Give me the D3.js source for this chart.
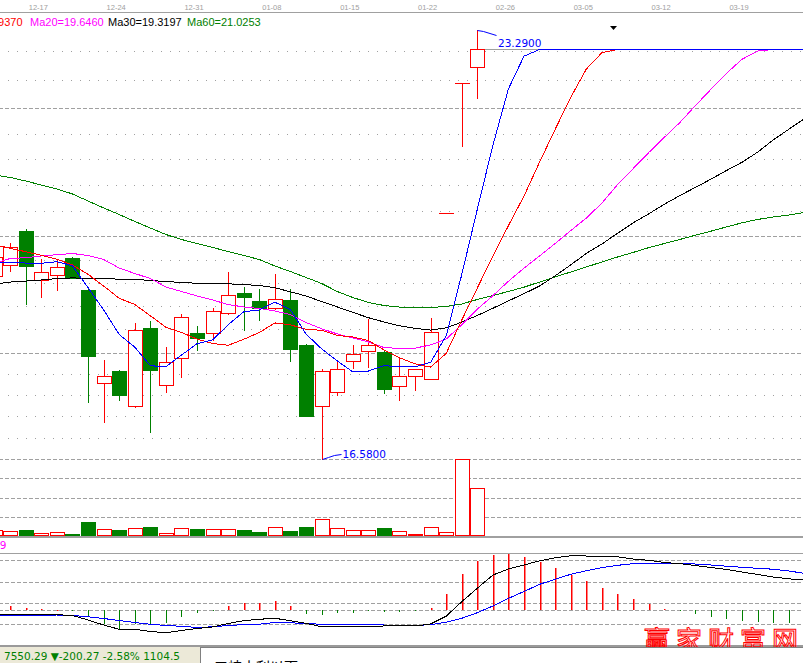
<!DOCTYPE html>
<html>
<head>
<meta charset="utf-8">
<script src="https://cdn.jsdelivr.net/npm/d3@7"></script>
<style>
  html, body { margin: 0; padding: 0; background: #fff; overflow: hidden; }
  svg { display: block; }
</style>
</head>
<body>
<script>
// ---- daily bars (first entry is the session just left of the visible window) ----
const opens  = [19.45, 19.62, 20.15, 19.38, 19.46, 19.73, 19.23, 17.78, 17.96, 17.42,
                18.63, 17.74, 18.16, 18.56, 18.55, 18.87, 19.18, 19.06, 18.94, 19.07,
                18.37, 17.41, 17.63, 18.11, 18.27, 18.26, 17.72, 17.89, 17.83, 20.43,
                22.47, 22.72];
const highs  = [19.78, 19.96, 20.18, 19.71, 19.69, 19.74, 19.24, 18.13, 17.97, 18.71,
                18.75, 18.33, 18.85, 18.67, 18.95, 19.51, 19.27, 19.24, 19.48, 19.24,
                18.38, 17.99, 18.12, 18.37, 18.77, 18.27, 18.16, 17.99, 18.79, 20.43,
                22.47, 23.29];
const lows   = [19.40, 19.53, 19.01, 19.12, 19.23, 19.41, 17.48, 17.17, 17.51, 17.40,
                17.01, 17.63, 17.87, 18.29, 18.45, 18.85, 18.60, 18.76, 18.93, 18.11,
                17.25, 16.58, 17.58, 18.01, 18.03, 17.61, 17.51, 17.66, 17.83, 20.43,
                21.48, 22.23];
const closes = [19.74, 19.90, 19.61, 19.51, 19.59, 19.42, 18.19, 17.88, 17.58, 18.60,
                17.97, 18.10, 18.80, 18.47, 18.90, 19.15, 19.12, 18.94, 19.08, 18.30,
                17.26, 17.96, 18.00, 18.22, 18.36, 17.68, 17.88, 17.99, 18.57, 20.43,
                22.47, 22.99];
const volumes = [8000, 6800, 8400, 4100, 5600, 3200, 18000, 8900, 8000, 10400,
                 11600, 4100, 10100, 9200, 8900, 8900, 8000, 5600, 11300, 6800,
                 11600, 20900, 10100, 7700, 7700, 10400, 6500, 3200, 11300, 5600,
                 92900, 58100];

// ---- moving averages, continued past the last session at its closing price ----
const ma5  = [19.650, 19.655, 19.650, 19.646, 19.670, 19.606, 19.264, 18.918, 18.532, 18.334,
              18.044, 18.026, 18.210, 18.388, 18.448, 18.684, 18.888, 18.916, 19.038, 18.918,
              18.540, 18.308, 18.120, 17.948, 17.960, 18.044, 18.028, 18.026, 18.096, 18.510,
              19.468, 20.490, 21.490, 22.374, 22.886, 22.990, 22.990, 22.990, 22.990, 22.990,
              22.990, 22.990, 22.990, 22.990, 22.990, 22.990, 22.990, 22.990, 22.990, 22.990,
              22.990, 22.990, 22.990];
const ma10 = [19.937, 19.880, 19.827, 19.771, 19.710, 19.619, 19.474, 19.291, 19.098, 19.002,
              18.825, 18.645, 18.564, 18.460, 18.391, 18.364, 18.457, 18.563, 18.713, 18.683,
              18.612, 18.598, 18.518, 18.493, 18.439, 18.292, 18.168, 18.073, 18.022, 18.235,
              18.756, 19.259, 19.758, 20.235, 20.698, 21.229, 21.741, 22.241, 22.683, 22.939,
              22.990, 22.990, 22.990, 22.990, 22.990, 22.990, 22.990, 22.990, 22.990, 22.990,
              22.990, 22.990, 22.990];
const ma20 = [19.646, 19.721, 19.733, 19.760, 19.780, 19.799, 19.768, 19.705, 19.572, 19.486,
              19.408, 19.275, 19.205, 19.135, 19.072, 19.001, 18.962, 18.939, 18.900, 18.843,
              18.719, 18.622, 18.542, 18.477, 18.416, 18.329, 18.313, 18.319, 18.368, 18.460,
              18.685, 18.929, 19.139, 19.365, 19.569, 19.761, 19.955, 20.157, 20.353, 20.587,
              20.874, 21.125, 21.375, 21.613, 21.845, 22.110, 22.366, 22.616, 22.837, 22.965,
              22.990, 22.990, 22.990];
const ma30 = [19.3197, 19.352, 19.367, 19.385, 19.406, 19.417, 19.411, 19.403, 19.399, 19.394,
              19.377, 19.360, 19.347, 19.333, 19.328, 19.325, 19.313, 19.299, 19.263, 19.200,
              19.134, 19.048, 18.964, 18.879, 18.795, 18.729, 18.668, 18.628, 18.602, 18.635,
              18.726, 18.829, 18.942, 19.058, 19.171, 19.290, 19.450, 19.620, 19.801, 19.947,
              20.114, 20.277, 20.417, 20.568, 20.704, 20.832, 20.961, 21.096, 21.226, 21.383,
              21.574, 21.741, 21.907];
const ma60 = [21.0253, 20.988, 20.933, 20.870, 20.808, 20.730, 20.620, 20.511, 20.409, 20.300,
              20.198, 20.096, 20.018, 19.955, 19.893, 19.830, 19.768, 19.705, 19.603, 19.517,
              19.424, 19.330, 19.205, 19.111, 19.033, 18.986, 18.962, 18.954, 18.954, 18.970,
              19.009, 19.080, 19.142, 19.205, 19.272, 19.353, 19.431, 19.510, 19.588, 19.666,
              19.744, 19.815, 19.890, 19.954, 20.018, 20.084, 20.148, 20.214, 20.279, 20.331,
              20.370, 20.401, 20.440];

// ---- MACD (12,26,9) ----
const dif = [-0.079, -0.085, -0.094, -0.094, -0.094, -0.110, -0.206, -0.313, -0.404, -0.404,
             -0.451, -0.477, -0.430, -0.387, -0.355, -0.281, -0.221, -0.191, -0.170, -0.221,
             -0.277, -0.349, -0.349, -0.349, -0.340, -0.334, -0.334, -0.334, -0.291, -0.126,
              0.183,  0.468,  0.751,  0.879,  0.964,  1.053,  1.119,  1.160,  1.155,  1.155,
              1.138,  1.091,  1.064,  1.017,  0.994,  0.953,  0.911,  0.868,  0.815,  0.762,
              0.709,  0.670,  0.645];
const dea = [-0.121, -0.117, -0.106, -0.104, -0.100, -0.110, -0.138, -0.174, -0.219, -0.260,
             -0.298, -0.323, -0.340, -0.366, -0.351, -0.323, -0.306, -0.296, -0.260, -0.266,
             -0.281, -0.298, -0.298, -0.298, -0.302, -0.313, -0.323, -0.323, -0.306, -0.253,
             -0.170, -0.051,  0.091,  0.255,  0.400,  0.553,  0.660,  0.766,  0.843,  0.906,
              0.957,  0.991,  1.002,  1.006,  0.996,  0.985,  0.964,  0.938,  0.915,  0.894,
              0.874,  0.836,  0.787];
const macdHist = [0.080, 0.085, 0.050, 0.028, 0.010, -0.010, -0.150, -0.300, -0.400, -0.300,
                  -0.300, -0.260, -0.150, -0.064, -0.010, 0.090, 0.160, 0.160, 0.190, 0.090,
                  -0.080, -0.100, -0.064, -0.050, -0.010, -0.030, -0.040, -0.010, 0.055, 0.350,
                   0.780, 1.050, 1.180, 1.200, 1.140, 1.030, 0.900, 0.750, 0.620, 0.470,
                   0.350, 0.240, 0.134, 0.030, -0.010, -0.080, -0.140, -0.185, -0.220, -0.240,
                  -0.260, -0.260, -0.260];
const macdGrid = [1.05, 0.60, 0.15, 0, -0.30];

// ---- date axis ----
const tickDays   = [3, 8, 13, 18, 23, 28, 33, 38, 43, 48];
const tickLabels = ["12-17", "12-24", "12-31", "01-08", "01-15", "01-22", "02-26", "03-05", "03-12", "03-19"];

// ---- index status line ----
const indexLast = 7550.29, indexChange = -200.27, indexPct = -2.58, indexAmount = 1104.5;

const W = 803, H = 663;
const RED = "#ff0000", GREEN = "#008000", BLUE = "#0000ff", MAGENTA = "#ff00ff", GRID = "#a0a0a0";
const SANS = "'Liberation Sans', Arial, sans-serif";
const DEJAVU = "'DejaVu Sans', Verdana, sans-serif";

const svg = d3.select("body").append("svg")
  .attr("width", W).attr("height", H)
  .attr("viewBox", `0 0 ${W} ${H}`);
svg.append("rect").attr("width", W).attr("height", H).attr("fill", "#fff");

// scales
const x = d3.scaleLinear().domain([0, 1]).range([-5.37, 10.2]);   // one session = 15.57px
const lo = d3.min(lows), hi = d3.max(highs);
const y = d3.scaleLinear().domain([lo, hi]).range([459.3, 30.3]);
const yVol = d3.scaleLinear().domain([0, d3.max(volumes)]).range([536.7, 459.3]);
const yMacd = d3.scaleLinear().domain([0, 1]).range([610.3, 563.3]);

const cx = k => Math.round(x(k));

function hline(g, yy, kind) {
  const p = Math.floor(yy) + 0.5;
  g.append("line")
    .attr("x1", 0).attr("x2", W).attr("y1", p).attr("y2", p)
    .attr("stroke", GRID).attr("stroke-width", 1)
    .attr("stroke-dasharray", kind === "dot" ? "1 8" : "4 2")
    .attr("stroke-dashoffset", 1)
    .attr("shape-rendering", "crispEdges");
}

// ---- grid: price levels stepped by 10% from the low, each step split in five ----
const grid = svg.append("g");
{
  let major = lo;
  while (major <= hi) {
    hline(grid, y(major), "dash");
    const next = major * 1.1;
    const step = (next - major) / 5;
    for (let s = 1; s < 5; s++) {
      const v = major + s * step;
      if (v <= hi) hline(grid, y(v), "dot");
    }
    major = next;
  }
}
// volume quarters
[0.25, 0.5, 0.75].forEach(f => hline(grid, yVol(d3.max(volumes) * f), "dash"));
// MACD levels
macdGrid.forEach(v => hline(grid, yMacd(v), "dash"));

// ---- frame lines ----
svg.append("rect").attr("x", 0).attr("y", 12).attr("width", W).attr("height", 1).attr("fill", GRID);
svg.append("rect").attr("x", 0).attr("y", 536).attr("width", W).attr("height", 2).attr("fill", GRID);
svg.append("rect").attr("x", 0).attr("y", 553).attr("width", W).attr("height", 1).attr("fill", GRID);
svg.append("rect").attr("x", 0).attr("y", 645).attr("width", W).attr("height", 2).attr("fill", "#9a9a9a");

// ---- date axis labels ----
svg.append("g").selectAll("text").data(tickDays).join("text")
  .attr("x", d => x(d) - 3).attr("y", 9.5)
  .attr("text-anchor", "middle")
  .attr("font-family", SANS).attr("font-size", 7.5)
  .attr("fill", GRID)
  .text((d, i) => tickLabels[i]);

// ---- volume bars ----
const vol = svg.append("g").attr("shape-rendering", "crispEdges");
volumes.forEach((v, k) => {
  const up = closes[k] >= opens[k];
  const top = Math.round(yVol(v));
  const c = cx(k);
  if (up) {
    vol.append("rect").attr("x", c - 7 + 0.5).attr("y", top + 0.5)
      .attr("width", 14).attr("height", Math.max(1, 536 - top - 1))
      .attr("fill", "#fff").attr("stroke", RED).attr("stroke-width", 1);
  } else {
    vol.append("rect").attr("x", c - 7).attr("y", top)
      .attr("width", 15).attr("height", 536 - top)
      .attr("fill", GREEN);
  }
});

// ---- candles ----
const cg = svg.append("g").attr("shape-rendering", "crispEdges");
opens.forEach((o, k) => {
  const c = cx(k), cl = closes[k];
  const up = cl >= o;
  const col = up ? RED : GREEN;
  const yH = Math.round(y(highs[k])), yL = Math.round(y(lows[k]));
  const top = Math.round(y(Math.max(o, cl))), bot = Math.round(y(Math.min(o, cl)));
  cg.append("rect").attr("x", c).attr("y", yH).attr("width", 1).attr("height", yL - yH + 1).attr("fill", col);
  if (bot - top < 1) {
    cg.append("rect").attr("x", c - 7).attr("y", top).attr("width", 15).attr("height", 1).attr("fill", col);
  } else if (up) {
    cg.append("rect").attr("x", c - 7 + 0.5).attr("y", top + 0.5)
      .attr("width", 14).attr("height", bot - top)
      .attr("fill", "#fff").attr("stroke", RED).attr("stroke-width", 1);
  } else {
    cg.append("rect").attr("x", c - 7).attr("y", top)
      .attr("width", 15).attr("height", bot - top + 1).attr("fill", GREEN);
  }
});

// ---- last close carried to the right ----
{
  const last = closes.length - 1;
  const p = Math.round(y(closes[last])) + 0.5;
  svg.append("line").attr("x1", cx(last) + 8).attr("x2", W).attr("y1", p).attr("y2", p)
    .attr("stroke", GRID).attr("stroke-width", 1);
}

// ---- moving-average lines ----
svg.append("clipPath").attr("id", "priceClip")
  .append("rect").attr("x", 0).attr("y", 13).attr("width", W).attr("height", 523);
const maLine = d3.line().x((d, k) => x(k)).y(d => y(d));
const mas = svg.append("g").attr("clip-path", "url(#priceClip)")
  .attr("fill", "none").attr("stroke-width", 1).attr("shape-rendering", "crispEdges");
[[ma60, GREEN], [ma30, "#000"], [ma20, MAGENTA], [ma10, RED], [ma5, BLUE]].forEach(([s, col]) => {
  mas.append("path").attr("d", maLine(s)).attr("stroke", col);
});

// ---- high / low markers ----
{
  const kh = highs.indexOf(hi), kl = lows.indexOf(lo);
  const hx = cx(kh) + 0.5, hy = Math.round(y(hi)) + 0.5;
  svg.append("polyline")
    .attr("points", `${hx},${hy} ${hx + 6},${hy + 1} ${hx + 19},${hy + 5}`)
    .attr("fill", "none").attr("stroke", BLUE).attr("stroke-width", 1);
  svg.append("text").attr("x", hx + 20.5).attr("y", hy + 16)
    .attr("font-family", DEJAVU).attr("font-size", 10.5).attr("fill", BLUE)
    .text(hi.toFixed(4));
  const lx = cx(kl) + 0.5, ly = Math.round(y(lo)) + 0.5;
  svg.append("polyline")
    .attr("points", `${lx},${ly} ${lx + 6},${ly - 2} ${lx + 12},${ly - 4} ${lx + 19},${ly - 5}`)
    .attr("fill", "none").attr("stroke", BLUE).attr("stroke-width", 1);
  svg.append("text").attr("x", lx + 20).attr("y", ly - 1.5)
    .attr("font-family", DEJAVU).attr("font-size", 10.5).attr("fill", BLUE)
    .text(lo.toFixed(4));
}

// ---- MA legend ----
{
  const g = svg.append("g").attr("font-family", SANS).attr("font-size", 11);
  g.append("text").attr("x", 22.5).attr("y", 26).attr("text-anchor", "end").attr("fill", RED)
    .text("Ma10=" + ma10[0].toFixed(4));
  g.append("text").attr("x", 30).attr("y", 26).attr("fill", MAGENTA).text("Ma20=" + ma20[0].toFixed(4));
  g.append("text").attr("x", 108).attr("y", 26).attr("fill", "#000").text("Ma30=" + ma30[0].toFixed(4));
  g.append("text").attr("x", 187).attr("y", 26).attr("fill", GREEN).text("Ma60=" + ma60[0].toFixed(4));
}
// cursor marker
svg.append("path").attr("d", "M610,26 L617,26 L613.5,30 Z").attr("fill", "#000");

// ---- MACD ----
{
  const g = svg.append("g");
  macdHist.forEach((v, k) => {
    const c = cx(k);
    const y0 = Math.round(yMacd(0)), y1 = Math.round(yMacd(v));
    g.append("rect")
      .attr("x", c).attr("width", v >= 0 ? 1.5 : 1)
      .attr("y", Math.min(y0, y1)).attr("height", Math.max(1, Math.abs(y1 - y0)))
      .attr("fill", v >= 0 ? RED : GREEN);
  });
  const ml = d3.line().x((d, k) => x(k)).y(d => yMacd(d));
  const lg = g.append("g").attr("fill", "none").attr("stroke-width", 1).attr("shape-rendering", "crispEdges");
  lg.append("path").attr("d", ml(dea)).attr("stroke", BLUE);
  lg.append("path").attr("d", ml(dif)).attr("stroke", "#000");
  svg.append("text").attr("x", 6.5).attr("y", 549).attr("text-anchor", "end")
    .attr("font-family", DEJAVU).attr("font-size", 10.5).attr("fill", MAGENTA)
    .text("MACD(12,26,9");
}

// ---- watermark ----
svg.append("text").attr("x", 644).attr("y", 650)
  .attr("font-family", "'Noto Sans CJK SC', sans-serif").attr("font-size", 26)
  .attr("letter-spacing", 6)
  .attr("fill", "none").attr("stroke", RED).attr("stroke-width", 1)
  .text("赢家财富网");

// ---- status bar ----
svg.append("rect").attr("x", 0).attr("y", 647).attr("width", W).attr("height", 16).attr("fill", "#ece9d8");
svg.append("rect").attr("x", 200.5).attr("y", 647.5).attr("width", W - 200).attr("height", 20)
  .attr("fill", "#fff").attr("stroke", "#808080").attr("stroke-width", 1);
svg.append("text").attr("x", 4).attr("y", 659.5)
  .attr("font-family", DEJAVU).attr("font-size", 10.5).attr("fill", GREEN)
  .text(`${indexLast.toFixed(2)} ▼${indexChange.toFixed(2)} ${indexPct.toFixed(2)}% ${indexAmount}`);
svg.append("text").attr("x", 214).attr("y", 672)
  .attr("font-family", "'Noto Sans CJK SC', sans-serif").attr("font-size", 14).attr("fill", "#000")
  .text("三峡水利以下");
</script>
</body>
</html>
